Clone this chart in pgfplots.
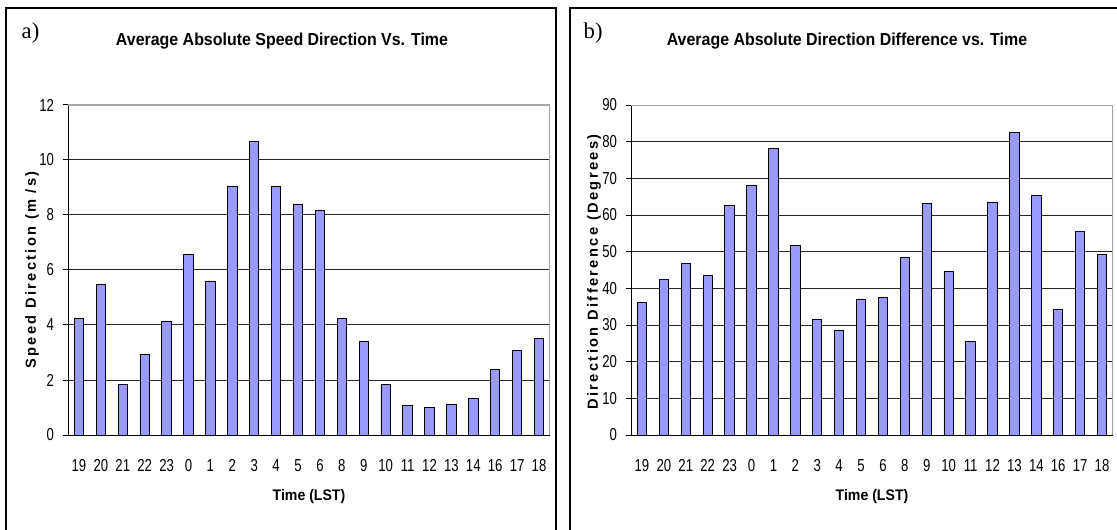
\documentclass[border=0pt]{standalone}
\usepackage{fontspec}
\setmainfont{Liberation Sans}
\newfontfamily\narrow[FakeStretch=0.76]{Liberation Sans}
\newfontfamily\titlef[FakeStretch=0.92]{Liberation Sans}
\newfontfamily\spaced[LetterSpace=16]{Liberation Sans}
\newfontfamily\serifa{Liberation Serif}
\usepackage{pgfplots}
\pgfplotsset{compat=1.18}
\definecolor{barblue}{RGB}{153,153,255}
\pgfplotstableread{
x y
0 4.22
1 5.47
2 1.82
3 2.92
4 4.12
5 6.58
6 5.60
7 9.03
8 10.66
9 9.03
10 8.40
11 8.15
12 4.22
13 3.41
14 1.82
15 1.06
16 1.01
17 1.12
18 1.34
19 2.37
20 3.08
21 3.50
}\speeddata
\pgfplotstableread{
x y
0 36.2
1 42.4
2 46.9
3 43.5
4 62.7
5 68.0
6 78.2
7 51.8
8 31.4
9 28.5
10 37.1
11 37.5
12 48.4
13 63.1
14 44.7
15 25.6
16 63.5
17 82.6
18 65.2
19 34.2
20 55.4
21 49.3
}\dirdata
\pgfplotsset{
  panel/.style={
    scale only axis, width=361.5pt, height=247.5pt,
    anchor=south west,
    xmin=-0.5, xmax=21.5,
    xtick={0,...,21},
    xticklabels={19,20,21,22,23,0,1,2,3,4,5,6,8,9,10,11,12,13,14,16,17,18},
    minor xtick={-0.5,0.5,...,21.5},
    axis x line*=bottom, axis y line*=left,
    x axis line style={black, line width=0.75pt},
    y axis line style={black, line width=0.75pt},
    tick align=outside,
    major tick length=4pt,
    xtick style={draw=none},
    minor x tick style={black, line width=0.75pt},
    minor tick length=4.5pt,
    ytick style={black, line width=0.75pt},
    ymin=0,
    ymajorgrids,
    grid style={black!85, line width=0.75pt},
    /pgf/number format/assume math mode=true,
    ticklabel style={font=\narrow\fontsize{13pt}{15pt}\selectfont},
    xticklabel style={yshift=-11pt},
    yticklabel style={xshift=-3pt},
    ybar, bar width=0.43,
  },
}
\begin{document}
\begin{tikzpicture}[x=0.75pt,y=0.75pt]
\useasboundingbox (0,0) rectangle (1117,529);
% frames
\draw[line width=1.5pt] (6,-5) -- (6,521) -- (556,521) -- (556,-5);
\draw[line width=1.5pt] (570,-5) -- (570,521) -- (1125,521);
% panel a
\begin{axis}[panel, at={(51pt,70.5pt)}, ymax=12, ytick={0,2,...,12}]
\addplot[fill=barblue, draw=black, line width=0.7pt] table[x=x,y=y]{\speeddata};
\draw[black!35, line width=0.9pt] (rel axis cs:0,1) -- (rel axis cs:1,1) -- (rel axis cs:1,0);
\end{axis}
% panel b
\begin{axis}[panel, at={(473.25pt,70.5pt)}, ymax=90, ytick={0,10,...,90}]
\addplot[fill=barblue, draw=black, line width=0.7pt] table[x=x,y=y]{\dirdata};
\draw[black!35, line width=0.9pt] (rel axis cs:0,1) -- (rel axis cs:1,1) -- (rel axis cs:1,0);
\end{axis}
% texts
\node[anchor=west, font=\serifa\fontsize{17pt}{19pt}\selectfont] at (17,496) {a)};
\node[anchor=west, font=\serifa\fontsize{17pt}{19pt}\selectfont] at (579,496) {b)};
\node[font=\titlef\bfseries\fontsize{13pt}{15pt}\selectfont] at (282,488) {Average Absolute Speed Direction Vs. Time};
\node[font=\titlef\bfseries\fontsize{13pt}{15pt}\selectfont] at (847,488) {Average Absolute Direction Difference vs. Time};
\node[font=\titlef\bfseries\fontsize{11.5pt}{13pt}\selectfont] at (309,32) {Time (LST)};
\node[font=\titlef\bfseries\fontsize{11.5pt}{13pt}\selectfont] at (872,32) {Time (LST)};
\node[rotate=90, font=\spaced\bfseries\fontsize{11pt}{13pt}\selectfont] at (32,259) {Speed\hspace{5pt}Direction\hspace{5pt}(m /s)};
\node[rotate=90, font=\spaced\bfseries\fontsize{11pt}{13pt}\selectfont] at (594,257) {Direction\hspace{5pt}Difference\hspace{5pt}(Degrees)};
\end{tikzpicture}
\end{document}
